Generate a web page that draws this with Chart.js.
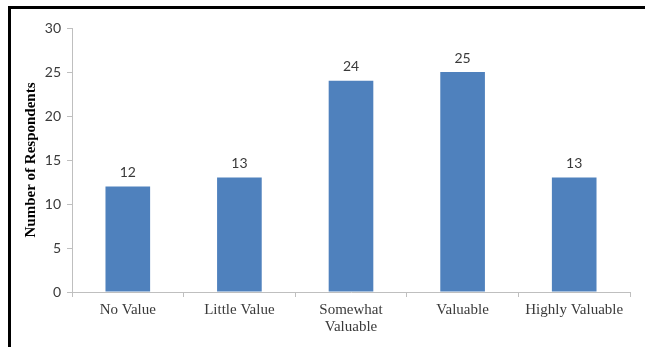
<!DOCTYPE html>
<html>
<head>
<meta charset="utf-8">
<script src="https://cdn.jsdelivr.net/npm/chart.js@4/dist/chart.umd.min.js"></script>
<style>
    html, body { margin: 0; padding: 0; background: #fff; }
    #marco { position: relative; width: 645px; height: 347px; overflow: hidden; }
    #borde {
        position: absolute; left: 8px; top: 6px; right: -10px; bottom: -10px;
        border-top: 3px solid #000; border-left: 3px solid #000;
        pointer-events: none;
    }
    canvas { position: absolute; left: 0; top: 0; }
</style>
</head>
<body>
<div id="marco">
    <canvas id="grafico" width="645" height="347"></canvas>
    <div id="borde"></div>
</div>
<script>
const categorias = ["No Value", "Little Value", ["Somewhat", "Valuable"], "Valuable", "Highly Valuable"];
const respuestas = [12, 13, 24, 25, 13];
const marcasY = [0, 5, 10, 15, 20, 25, 30];

const colorBarra = "#4F81BD";
const colorTexto = "#3A3A3A";
const colorEje = "#BFBFBF";

// Etiquetas de valor encima de cada barra
const etiquetasValor = {
    id: "etiquetasValor",
    afterDatasetsDraw(chart) {
        const ctx = chart.ctx;
        const meta = chart.getDatasetMeta(0);
        ctx.save();
        ctx.font = "14px Lato";
        ctx.fillStyle = colorTexto;
        ctx.textAlign = "center";
        ctx.textBaseline = "bottom";
        meta.data.forEach((bar, i) => {
            ctx.fillText(respuestas[i], bar.x, bar.y - 7);
        });
        ctx.restore();
    }
};

new Chart(document.getElementById("grafico"), {
    type: "bar",
    data: {
        labels: categorias,
        datasets: [{
            label: "Number of Respondents",
            data: respuestas,
            backgroundColor: colorBarra,
            borderWidth: 0,
            categoryPercentage: 0.8,
            barPercentage: 0.5
        }]
    },
    options: {
        responsive: false,
        animation: false,
        layout: {padding: {top: 28, right: 15, bottom: 0, left: 0}},
        plugins: {legend: {display: false}, tooltip: {enabled: false}},
        scales: {
            x: {
                afterFit: s => { s.height = 55; },
                border: {color: colorEje, width: 1},
                grid: {display: true, drawOnChartArea: false, color: colorEje, tickLength: 5, offset: true},
                ticks: {
                    color: colorTexto,
                    padding: 5,
                    maxRotation: 0,
                    autoSkip: false,
                    font: {family: "Liberation Serif", size: 15, lineHeight: 1.1}
                }
            },
            y: {
                min: 0,
                max: 30,
                afterFit: s => { s.width = 72; },
                afterBuildTicks: s => { s.ticks = marcasY.map(v => ({value: v})); },
                border: {color: colorEje, width: 1},
                grid: {display: true, drawOnChartArea: false, color: colorEje, tickLength: 5},
                ticks: {
                    color: colorTexto,
                    padding: 6,
                    font: {family: "Lato", size: 14}
                },
                title: {
                    display: true,
                    text: "Number of Respondents",
                    color: "#000",
                    padding: {top: 22, bottom: 0},
                    font: {family: "Liberation Serif", size: 15, weight: "bold"}
                }
            }
        }
    },
    plugins: [etiquetasValor]
});
</script>
</body>
</html>
